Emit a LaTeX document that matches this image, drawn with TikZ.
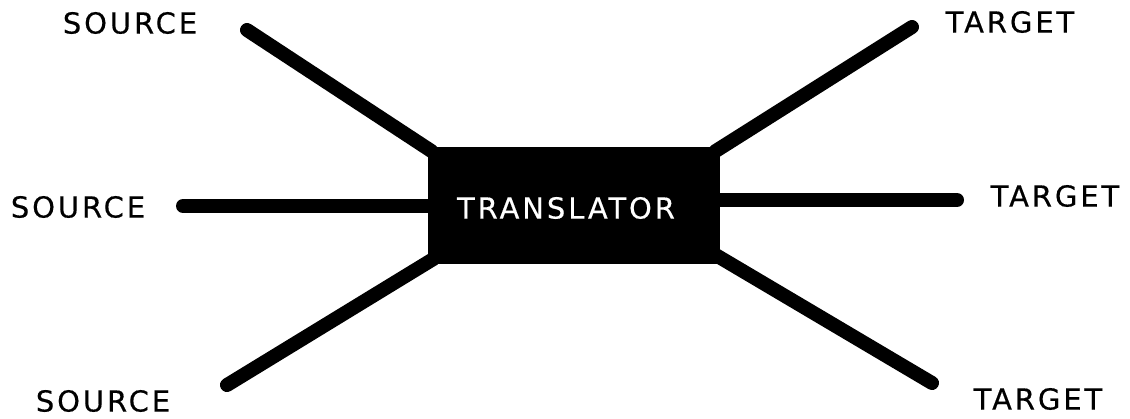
\documentclass[tikz,border=0pt]{standalone}
\usepackage{fontspec}
\setmainfont{DejaVu Sans}[LetterSpace=10, FakeBold=0.4]
\usepackage{tikz}
\usetikzlibrary{positioning}

\begin{document}
\begin{tikzpicture}[x=1pt, y=-1pt, line cap=round,
  leg/.style={line width=14pt, black},
  endlabel/.style={font=\fontsize{29}{32}\selectfont, text=black, inner sep=0pt}]
  \useasboundingbox (0,0) rectangle (1130,418);
  \node[fill=black, minimum width=292pt, minimum height=117pt, inner sep=0pt] (trans) at (574,205) {};
  \node[endlabel, text=white] (transtext) at (566,208) {TRANSLATOR};
  \coordinate (ul) at (247,30);
  \coordinate (ml) at (183,206);
  \coordinate (ll) at (227,385);
  \coordinate (ur) at (912,27);
  \coordinate (mr) at (957,200);
  \coordinate (lr) at (932,383);
  \draw[leg] (ul) -- ([shift={(4,5)}]trans.north west);
  \draw[leg] (ml) -- (trans.west |- ml);
  \draw[leg] (ll) -- ([shift={(6,-5)}]trans.south west);
  \draw[leg] (ur) -- ([shift={(-5,5)}]trans.north east);
  \draw[leg] (mr) -- (trans.east |- mr);
  \draw[leg] (lr) -- ([shift={(-5,-9)}]trans.south east);
  \node[endlabel] (src1) at (130,23) {SOURCE};
  \node[endlabel] (src2) at (78,207) {SOURCE};
  \node[endlabel] (src3) at (103,401) {SOURCE};
  \node[endlabel] (tgt1) at (1010,22) {TARGET};
  \node[endlabel] (tgt2) at (1055,196) {TARGET};
  \node[endlabel] (tgt3) at (1038,399) {TARGET};
\end{tikzpicture}
\end{document}
